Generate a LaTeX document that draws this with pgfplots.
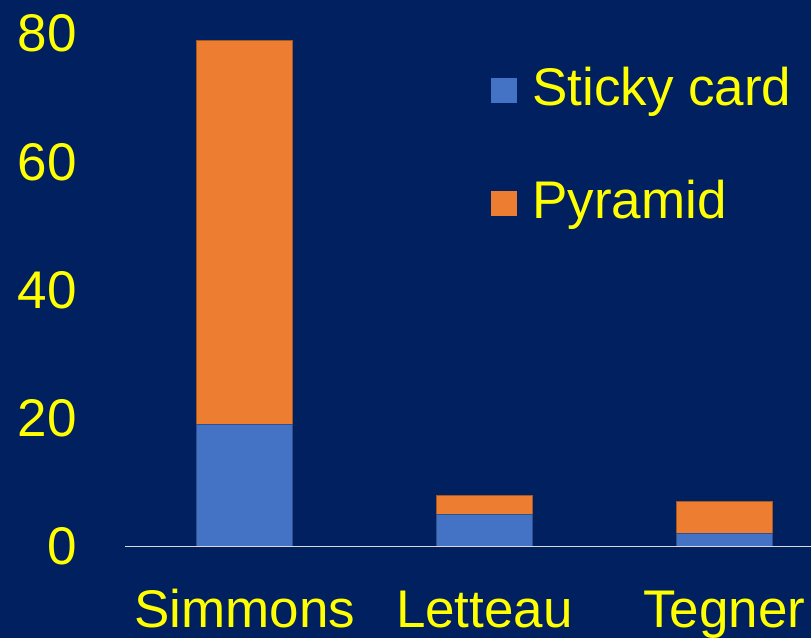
\documentclass[border=0pt]{standalone}
\usepackage{pgfplots}
\pgfplotsset{compat=1.18}
\usepackage{fontspec}
\setmainfont{Liberation Sans}
\definecolor{bg}{HTML}{002060}
\definecolor{barblue}{HTML}{4472C4}
\definecolor{barorange}{HTML}{ED7D31}
\definecolor{txt}{HTML}{FFFF00}
\definecolor{axisgray}{HTML}{D9D9D9}
\begin{document}
\begin{tikzpicture}
\fill[bg] (-125pt,-91.5pt) rectangle (686pt,546.5pt);
\useasboundingbox (-125pt,-91.5pt) rectangle (686pt,546.5pt);
\begin{axis}[
  at={(0pt,0pt)}, anchor=south west,
  scale only axis,
  width=686pt, height=512.8pt,
  xmin=-0.5, xmax=2.3625,
  ymin=0, ymax=80,
  ybar stacked, bar width=96pt,
  axis on top,
  axis x line*=bottom, axis y line*=left,
  x axis line style={draw=axisgray, line width=1.8pt},
  y axis line style={draw=none},
  major tick length=0pt,
  xtick=data,
  xticklabels={Simmons, Letteau, Tegner},
  ytick={0,20,40,60,80},
  /pgf/number format/assume math mode=true,
  tick label style={font=\fontsize{53}{60}\selectfont, text=txt, inner sep=0pt},
  xticklabel style={anchor=base, yshift=-80.5pt},
  yticklabel style={anchor=east, xshift=-48pt},
  legend image code/.code={\path[#1, draw=none] (0pt,-16pt) rectangle (26pt,9pt);},
  legend style={draw=none, fill=none, at={(axis description cs:0.5335,0.935)}, anchor=north west,
    font=\fontsize{53}{60}\selectfont, text=txt, row sep=72.5pt, column sep=15pt,
    inner sep=0pt, nodes={inner sep=0pt}},
  legend cell align=left,
]
\addplot[fill=barblue, draw=barblue!70!black, line width=0.7pt] coordinates {(0,19) (1,5) (2,2)};
\addplot[fill=barorange, draw=barorange!70!black, line width=0.7pt] coordinates {(0,60) (1,3) (2,5)};
\legend{Sticky card, Pyramid}
\end{axis}
\end{tikzpicture}
\end{document}
